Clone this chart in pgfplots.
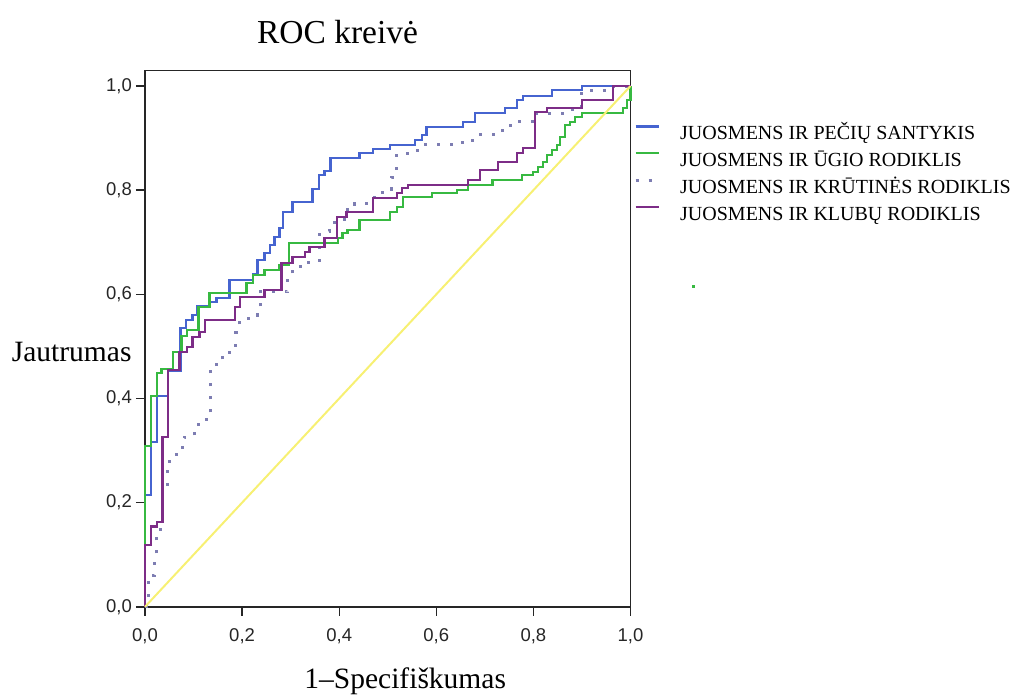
\documentclass[border=0pt]{standalone}
\usepackage{fontspec}
\setmainfont{Liberation Serif}
\setsansfont{Liberation Sans}
\usepackage{pgfplots}
\pgfplotsset{compat=1.18}
\definecolor{cblue}{RGB}{70,100,208}
\definecolor{cgreen}{RGB}{55,185,65}
\definecolor{cpurple}{RGB}{125,45,135}
\definecolor{cdot}{RGB}{125,125,178}
\definecolor{cyel}{RGB}{247,240,115}
\begin{document}
\begin{tikzpicture}
\path[use as bounding box] (0,0) rectangle (1013bp,695bp);
\begin{axis}[
  at={(145bp,88.2bp)}, anchor=south west,
  scale only axis, width=485.5bp, height=536.1bp,
  xmin=0, xmax=1, ymin=0, ymax=1.0294,
  axis line style={line width=1.4bp, black!85},
  every tick/.style={line width=1.4bp, black!85},
  major tick length=9bp, tick align=outside,
  xtick pos=bottom, ytick pos=left,
  xtick={0,0.2,0.4,0.6,0.8,1}, ytick={0,0.2,0.4,0.6,0.8,1},
  tick label style={font=\sffamily\fontsize{18.5bp}{18.5bp}\selectfont, black!85},
  xticklabel style={inner sep=0pt, anchor=north, yshift=-13bp},
  yticklabel style={inner sep=0pt, anchor=east, xshift=-4bp},
  /pgf/number format/.cd, assume math mode=true, use comma, fixed, fixed zerofill, precision=1,
  /pgfplots/.cd,
  clip=false,
  legend cell align=left,
  legend style={at={(axis description cs:1.0072,0.8987)}, anchor=north west,
    draw=none, fill=none, inner sep=0pt,
    font=\fontsize{20bp}{20bp}\selectfont, row sep=12.3bp,
    nodes={inner sep=0pt, text height=13.5bp, text depth=0bp},
    /tikz/every odd column/.append style={column sep=20bp}},
  legend image code/.code={\draw[#1] (0bp,6.5bp) -- (23bp,6.5bp);},
]
% JUOSMENS IR PECIU SANTYKIS
\addplot[const plot, cblue, line width=2.3bp] coordinates {
(0,0)(0,0.215)(0.013,0.317)(0.024,0.405)(0.048,0.453)(0.073,0.536)(0.084,0.551)
(0.098,0.560)(0.108,0.578)(0.133,0.585)(0.147,0.593)(0.174,0.628)(0.222,0.639)
(0.232,0.666)(0.246,0.679)(0.257,0.695)(0.267,0.710)(0.277,0.727)(0.284,0.758)
(0.304,0.777)(0.345,0.802)(0.358,0.829)(0.370,0.837)(0.382,0.862)(0.442,0.871)
(0.469,0.879)(0.504,0.887)(0.556,0.896)(0.570,0.906)(0.580,0.921)(0.655,0.931)
(0.679,0.948)(0.741,0.958)(0.766,0.973)(0.778,0.981)(0.838,0.992)(0.900,1.0)(1,1)};
\addlegendentry{JUOSMENS IR PEČIŲ SANTYKIS}
% JUOSMENS IR UGIO RODIKLIS
\addplot[const plot, cgreen, line width=2.3bp] coordinates {
(0,0)(0,0.309)(0.013,0.405)(0.024,0.449)(0.034,0.457)(0.057,0.489)(0.075,0.520)
(0.086,0.532)(0.110,0.576)(0.133,0.603)(0.209,0.622)(0.222,0.637)(0.246,0.647)
(0.277,0.656)(0.296,0.699)(0.397,0.708)(0.407,0.718)(0.417,0.724)(0.442,0.743)
(0.504,0.758)(0.519,0.768)(0.531,0.787)(0.591,0.795)(0.642,0.800)(0.665,0.810)
(0.716,0.820)(0.776,0.829)(0.799,0.835)(0.809,0.845)(0.820,0.854)(0.828,0.868)
(0.838,0.877)(0.848,0.887)(0.855,0.902)(0.865,0.925)(0.876,0.931)(0.886,0.940)
(0.900,0.948)(0.985,0.958)(0.993,0.973)(1,1)};
\addlegendentry{JUOSMENS IR ŪGIO RODIKLIS}
% JUOSMENS IR KRUTINES RODIKLIS
\addplot[const plot, cdot, line width=3bp, dash pattern=on 3bp off 10bp] coordinates {
(0,0)(0.007,0.061)(0.020,0.084)(0.024,0.148)(0.036,0.225)(0.046,0.263)(0.051,0.292)
(0.073,0.305)(0.081,0.326)(0.102,0.336)(0.110,0.359)(0.135,0.455)(0.147,0.470)
(0.160,0.489)(0.182,0.499)(0.187,0.526)(0.195,0.553)(0.222,0.560)(0.232,0.576)
(0.238,0.605)(0.294,0.633)(0.304,0.653)(0.325,0.662)(0.360,0.720)(0.380,0.737)
(0.401,0.743)(0.417,0.762)(0.432,0.775)(0.457,0.785)(0.477,0.795)(0.498,0.802)
(0.508,0.825)(0.519,0.871)(0.550,0.877)(0.570,0.887)(0.653,0.896)(0.675,0.906)
(0.736,0.921)(0.752,0.931)(0.803,0.948)(0.876,0.954)(0.900,0.992)(0.964,1.0)(1,1)};
\addlegendentry{JUOSMENS IR KRŪTINĖS RODIKLIS}
% JUOSMENS IR KLUBU RODIKLIS
\addplot[const plot, cpurple, line width=2.3bp] coordinates {
(0,0)(0,0.119)(0.013,0.154)(0.024,0.163)(0.036,0.326)(0.048,0.455)(0.071,0.489)
(0.086,0.499)(0.098,0.518)(0.112,0.528)(0.123,0.551)(0.185,0.576)(0.195,0.595)
(0.246,0.608)(0.281,0.660)(0.304,0.672)(0.329,0.681)(0.339,0.691)(0.370,0.708)
(0.395,0.749)(0.415,0.758)(0.469,0.785)(0.519,0.795)(0.529,0.804)(0.541,0.810)
(0.665,0.820)(0.690,0.839)(0.727,0.854)(0.766,0.871)(0.778,0.881)(0.803,0.950)
(0.828,0.958)(0.900,0.973)(0.964,1.0)(1,1)};
\addlegendentry{JUOSMENS IR KLUBŲ RODIKLIS}
% reference line
\addplot[cyel, line width=2bp, forget plot] coordinates {(0,0)(1,1)};
% stray point
\addplot[only marks, mark=square*, mark size=1bp, cgreen, forget plot] coordinates {(1.129,0.616)};
\node[anchor=base, font=\fontsize{33.5bp}{40bp}\selectfont] at (axis description cs:0.3965,1.0498) {ROC kreivė};
\node[anchor=base, font=\fontsize{29.5bp}{35bp}\selectfont] at (axis description cs:0.536,-0.153) {1–Specifiškumas};
\node[anchor=base west, inner sep=0pt, font=\fontsize{29.5bp}{35bp}\selectfont] at (axis description cs:-0.2746,0.4572) {Jautrumas};
\end{axis}
\end{tikzpicture}
\end{document}
